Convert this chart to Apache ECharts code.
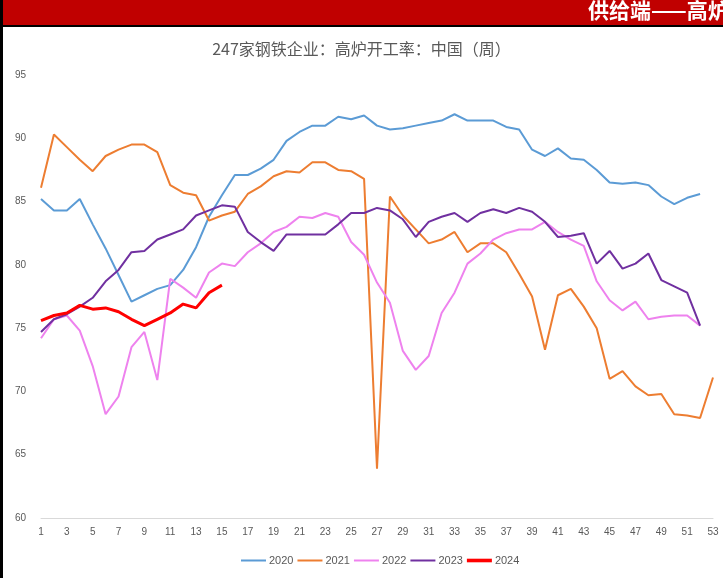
<!DOCTYPE html>
<html>
<head>
<meta charset="utf-8">
<script src="https://cdn.jsdelivr.net/npm/echarts@6/dist/echarts.min.js"></script>
<style>
  html, body { margin: 0; padding: 0; background: #fff; }
  #chart { width: 723px; height: 578px; }
</style>
</head>
<body>
<div id="chart"></div>
<script>
// weeks 1..53
var weeks = ['1','2','3','4','5','6','7','8','9','10','11','12','13','14','15','16','17','18','19','20',
  '21','22','23','24','25','26','27','28','29','30','31','32','33','34','35','36','37','38','39','40',
  '41','42','43','44','45','46','47','48','49','50','51','52','53']

var y2020 = [85.2, 84.3, 84.3, 85.2, 83.2, 81.3, 79.2, 77.1, 77.6, 78.1,
  78.4, 79.6, 81.4, 83.8, 85.5, 87.1, 87.1, 87.6, 88.3, 89.8,
  90.5, 91.0, 91.0, 91.7, 91.5, 91.8, 91.0, 90.7, 90.8, 91.0,
  91.2, 91.4, 91.9, 91.4, 91.4, 91.4, 90.9, 90.7, 89.1, 88.6,
  89.2, 88.4, 88.3, 87.5, 86.5, 86.4, 86.5, 86.3, 85.4, 84.8,
  85.3, 85.6]
var y2021 = [86.1, 90.3, 89.3, 88.3, 87.4, 88.6, 89.1, 89.5, 89.5, 88.9,
  86.3, 85.7, 85.5, 83.5, 83.9, 84.2, 85.6, 86.2, 87.0, 87.4,
  87.3, 88.1, 88.1, 87.5, 87.4, 86.8, 63.9, 85.4, 83.9, 82.8,
  81.7, 82.0, 82.6, 81.0, 81.7, 81.7, 81.0, 79.3, 77.5, 73.3,
  77.6, 78.1, 76.7, 75.0, 71.0, 71.6, 70.4, 69.7, 69.8, 68.2,
  68.1, 67.9, 71.1]
var y2022 = [74.2, 75.7, 76.0, 74.8, 72.0, 68.2, 69.6, 73.5, 74.7, 70.9,
  78.9, 78.2, 77.4, 79.4, 80.1, 79.9, 81.0, 81.7, 82.6, 83.0,
  83.8, 83.7, 84.1, 83.8, 81.8, 80.8, 78.6, 77.0, 73.2, 71.7,
  72.8, 76.2, 77.8, 80.1, 80.9, 82.0, 82.5, 82.8, 82.8, 83.4,
  82.6, 82.0, 81.5, 78.7, 77.2, 76.4, 77.1, 75.7, 75.9, 76.0,
  76.0, 75.2]
var y2023 = [74.7, 75.7, 76.1, 76.7, 77.4, 78.7, 79.6, 81.0, 81.1, 82.0,
  82.4, 82.8, 83.9, 84.3, 84.7, 84.6, 82.6, 81.8, 81.1, 82.4,
  82.4, 82.4, 82.4, 83.2, 84.1, 84.1, 84.5, 84.3, 83.6, 82.2,
  83.4, 83.8, 84.1, 83.4, 84.1, 84.4, 84.1, 84.5, 84.2, 83.4,
  82.2, 82.3, 82.5, 80.1, 81.1, 79.7, 80.1, 80.9, 78.8, 78.3,
  77.8, 75.2]
var y2024 = [75.6, 76.0, 76.2, 76.8, 76.5, 76.6, 76.3, 75.7, 75.2, 75.7,
  76.2, 76.9, 76.6, 77.8, 78.4]

var chart = echarts.init(document.getElementById('chart'))

function line (name, data, color, width) {
  return {
    name: name,
    type: 'line',
    data: data,
    symbol: 'none',
    smooth: false,
    itemStyle: { color: color },
    lineStyle: { color: color, width: width }
  }
}

// flat bars for the legend, 2024 drawn thicker like its line
var thin = 'path://M0,0H25V2H0Z'
var thick = 'path://M0,0H25V3.6H0Z'

var option = {
  backgroundColor: '#fff',
  animation: false,
  title: {
    text: '247家钢铁企业：高炉开工率：中国（周）',
    left: 'center',
    top: 36,
    textStyle: {
      color: '#595959',
      fontSize: 16,
      fontWeight: 'normal',
      fontFamily: 'Noto Sans CJK SC'
    }
  },
  legend: {
    left: 236,
    top: 550,
    itemWidth: 25,
    itemHeight: 10,
    itemGap: 4,
    textStyle: { color: '#595959', fontSize: 11, padding: [0, 0, 0, -2] },
    data: [
      { name: '2020', icon: thin },
      { name: '2021', icon: thin },
      { name: '2022', icon: thin },
      { name: '2023', icon: thin },
      { name: '2024', icon: thick }
    ]
  },
  grid: { left: 41, right: 10, top: 75, bottom: 60, containLabel: false },
  xAxis: {
    type: 'category',
    boundaryGap: false,
    data: weeks,
    axisLine: { lineStyle: { color: '#d9d9d9', width: 1 } },
    axisTick: { show: false },
    axisLabel: { interval: 1, color: '#595959', fontSize: 10, margin: 9 }
  },
  yAxis: {
    type: 'value',
    min: 60,
    max: 95,
    interval: 5,
    axisLine: { show: false },
    axisTick: { show: false },
    splitLine: { show: false },
    axisLabel: { color: '#595959', fontSize: 10, margin: 15 }
  },
  series: [
    line('2020', y2020, '#5B9BD5', 2),
    line('2021', y2021, '#ED7D31', 2),
    line('2022', y2022, '#EE82EE', 2),
    line('2023', y2023, '#7030A0', 2),
    line('2024', y2024, '#FF0000', 3)
  ],
  graphic: [
    { type: 'rect', left: 0, top: 0, shape: { width: 723, height: 25 }, style: { fill: '#C00000' } },
    { type: 'rect', left: 0, top: 25, shape: { width: 723, height: 2 }, style: { fill: '#000' } },
    { type: 'rect', left: 0, top: 0, shape: { width: 3, height: 578 }, style: { fill: '#000' } },
    {
      type: 'text', left: 588, top: 0,
      style: {
        text: '供给端——高炉',
        fill: '#fff',
        font: 'bold 21px "Noto Sans CJK SC"'
      }
    }
  ]
}

chart.setOption(option)
</script>
</body>
</html>
